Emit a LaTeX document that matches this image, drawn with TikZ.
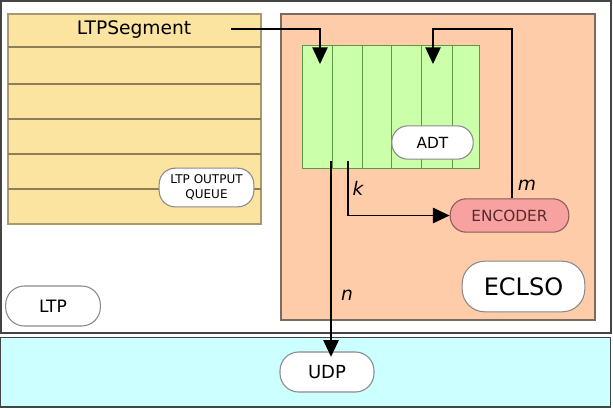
\documentclass[tikz,border=0pt]{standalone}
\usepackage{fontspec}
\setmainfont{DejaVu Sans}
\usetikzlibrary{arrows.meta}
\definecolor{ltpyellow}{HTML}{FBE4A0}
\definecolor{ltpyline}{HTML}{8E7E55}
\definecolor{ltpyborder}{HTML}{A8996E}
\definecolor{eclpeach}{HTML}{FFCCAA}
\definecolor{eclborder}{HTML}{7A6A60}
\definecolor{adtgreen}{HTML}{CCFFAA}
\definecolor{adtline}{HTML}{5E9A45}
\definecolor{encpink}{HTML}{F7A1A1}
\definecolor{enctext}{HTML}{5A2A2A}
\definecolor{encborder}{HTML}{8A5A5A}
\definecolor{udpcyan}{HTML}{CCFFFF}
\definecolor{outerline}{HTML}{444444}
\definecolor{pillborder}{HTML}{8A8A8A}
\begin{document}
\begin{tikzpicture}[x=0.75pt,y=-0.75pt,
  panel/.style={anchor=north west, inner sep=0pt, outer sep=0pt},
  pill/.style={draw=pillborder, fill=white, line width=0.8pt, rounded corners=12pt, inner sep=0pt, align=center},
  conn/.style={line width=1.1pt, -{Triangle[length=12.5pt,width=11.5pt]}},
  lbl/.style={font=\fontsize{14}{16}\selectfont\itshape, inner sep=0pt}
]
\useasboundingbox (0,0) rectangle (613,408);

% outer LTP panel
\node[panel, draw=outerline, line width=1.5pt, fill=white, minimum width=457.5pt, minimum height=249pt] (ltppanel) at (1,1) {};
% UDP panel
\node[panel, draw=outerline, line width=1.2pt, fill=udpcyan, minimum width=457.5pt, minimum height=52pt] (udppanel) at (0.5,337.5) {};

% yellow queue
\node[panel, draw=ltpyborder, line width=0.8pt, fill=ltpyellow, minimum width=189.75pt, minimum height=157.5pt] (queuebox) at (8,14) {};
\foreach \yy in {47,84,119,154,189}
  \draw[ltpyline, line width=0.8pt] (8,\yy) -- (261,\yy);

% ECLSO panel
\node[panel, draw=eclborder, line width=1pt, fill=eclpeach, minimum width=235.5pt, minimum height=229.5pt] (eclpanel) at (281,14) {};

% green ADT
\node[panel, draw=adtline, line width=0.7pt, fill=adtgreen, minimum width=132.75pt, minimum height=92.25pt] (adtbox) at (302,45) {};
\foreach \xx in {332,362,391,421,452}
  \draw[adtline, line width=0.7pt] (\xx,45) -- (\xx,168);

% text nodes
\node[inner sep=0pt, font=\fontsize{14}{16}\selectfont] (ltpseg) at (134,30) {LTPSegment};
\node[pill, minimum width=71pt, minimum height=29pt, font=\fontsize{9}{11.25}\selectfont] (outq) at (206.5,187.5) {LTP OUTPUT\\QUEUE};
\node[pill, minimum width=61pt, minimum height=25pt, font=\fontsize{11.5}{13}\selectfont] (adt) at (432.5,142.5) {ADT};
\node[pill, draw=encborder, fill=encpink, text=enctext, minimum width=89pt, minimum height=25pt, font=\fontsize{11.5}{13}\selectfont] (enc) at (509.5,215.5) {ENCODER};
\node[pill, rounded corners=17pt, minimum width=92pt, minimum height=38pt, font=\fontsize{18}{20}\selectfont] (eclso) at (523.5,286.5) {ECLSO};
\node[pill, rounded corners=14pt, minimum width=71pt, minimum height=30pt, font=\fontsize{12.8}{14}\selectfont] (ltp) at (53,306) {LTP};
\node[pill, rounded corners=14pt, minimum width=70.5pt, minimum height=30pt, font=\fontsize{13.5}{15}\selectfont] (udp) at (327,372) {UDP};

% connector coordinates
\coordinate (inA) at (320,64);
\coordinate (inB) at (433,64);
\coordinate (outN) at (331,161);
\coordinate (outK) at (348,161);
\coordinate (segstart) at (231,29);
\coordinate (mx) at (512,29);

\draw[conn] (segstart) -| (inA);
\draw[conn] (mx |- enc.north) -- (mx) -| (inB);
\draw[conn] (outK) |- (enc.west);
\draw[conn, shorten >=-4pt] (outN) -- (outN |- udp.north);

% labels
\node[lbl] (klbl) at (358,188) {k};
\node[lbl] (mlbl) at (527,185) {m};
\node[lbl] (nlbl) at (347,295) {n};
\end{tikzpicture}
\end{document}
